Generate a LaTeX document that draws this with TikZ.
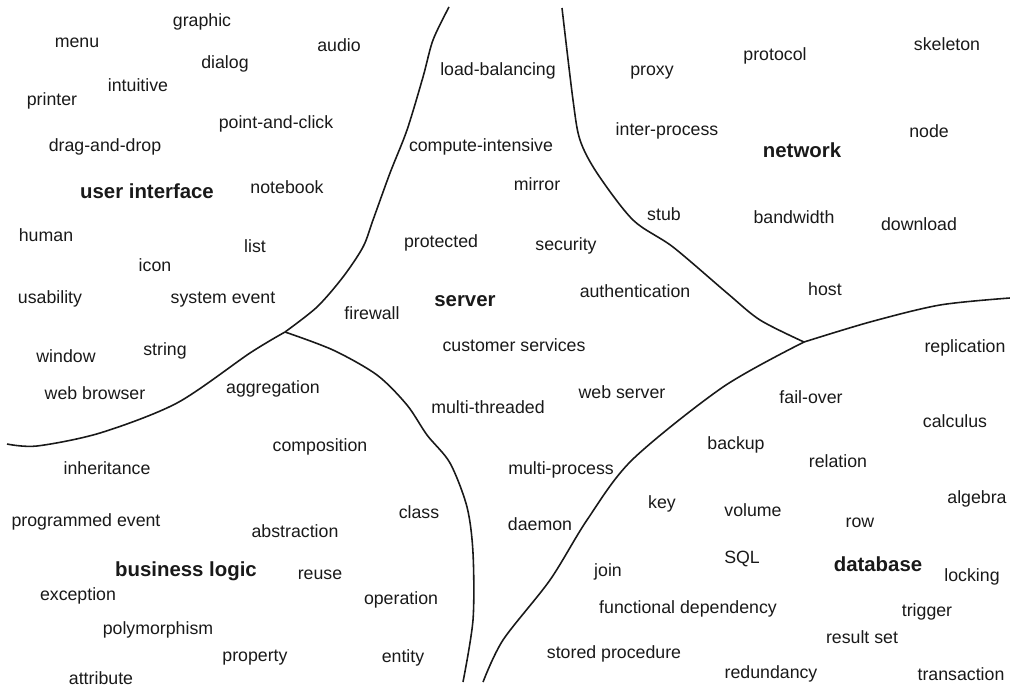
\documentclass[tikz,border=0pt]{standalone}
\usepackage{fontspec}
\setsansfont{Liberation Sans}
\usepackage{tikz}
\usetikzlibrary{positioning}

\begin{document}
\begin{tikzpicture}[
  x=0.02cm, y=-0.02cm,
  font=\sffamily,
  term/.style={inner sep=0pt, yshift=-0.6pt, font=\sffamily\fontsize{10.1}{12}\selectfont, text=black!90},
  topic/.style={inner sep=0pt, yshift=-0.6pt, font=\sffamily\bfseries\fontsize{11.6}{13}\selectfont, text=black!90},
  border/.style={line width=0.9pt, draw=black!90},
]
\useasboundingbox (0,0) rectangle (1010,687);

% ============================================================
% JUNCTIONS of the region borders
% ============================================================
\coordinate (jleft) at (285,332);
\coordinate (jright) at (804,342);

% --- borders ---
\draw[border] plot[smooth, tension=0.5] coordinates {(449,7) (433,40) (423,77) (407,130) (390,173) (373,220) (363,247) (343,277) (317,307) (jleft)};
\draw[border] plot[smooth, tension=0.5] coordinates {(jleft) (250,353) (177,403) (100,433) (37,446) (7,444)};
\draw[border] plot[smooth, tension=0.5] coordinates {(jleft) (333,350) (377,375) (407,405) (427,435) (450,463) (467,507) (473,553) (473,620) (463,682)};
\draw[border] plot[smooth, tension=0.5] coordinates {(562,8) (573,100) (580,140) (597,173) (633,220) (673,247) (727,293) (760,320) (jright)};
\draw[border] plot[smooth, tension=0.5] coordinates {(jright) (870,322) (940,305) (1010,298)};
\draw[border] plot[smooth, tension=0.5] coordinates {(jright) (723,387) (632,460) (587,520) (550,580) (503,640) (483,682)};

% ============================================================
% USER INTERFACE
% ============================================================
\node[topic] (ui) at (147,190) {user interface};
\node[term] (graphic) at (202,21) {graphic};
\node[term] (menu) at (77,42) {menu};
\node[term] (audio) at (339,44) {audio};
\node[term] (dialog) at (225,63) {dialog};
\node[term] (intuitive) at (138,84) {intuitive};
\node[term] (printer) at (52,100) {printer};
\node[term] (pointclick) at (276,123) {point-and-click};
\node[term] (dragdrop) at (105,146) {drag-and-drop};
\node[term] (notebook) at (287,186) {notebook};
\node[term] (human) at (46,234) {human};
\node[term] (list) at (255,245) {list};
\node[term] (icon) at (155,264) {icon};
\node[term] (usability) at (50,298) {usability};
\node[term] (sysevent) at (223,299) {system event};
\node[term] (window) at (66,355) {window};
\node[term] (string) at (165,350) {string};
\node[term] (webbrowser) at (95,392) {web browser};

% ============================================================
% SERVER
% ============================================================
\node[topic] (server) at (465,300) {server};
\node[term] (loadbal) at (498,70) {load-balancing};
\node[term] (compint) at (481,146) {compute-intensive};
\node[term] (mirror) at (537,183) {mirror};
\node[term] (protected) at (441,242) {protected};
\node[term] (security) at (566,245) {security};
\node[term] (firewall) at (372,312) {firewall};
\node[term] (authent) at (635,290) {authentication};
\node[term] (custserv) at (514,344) {customer services};
\node[term] (multithr) at (488,406) {multi-threaded};
\node[term] (webserver) at (622,391) {web server};
\node[term] (multiproc) at (561,469) {multi-process};
\node[term] (daemon) at (540,523) {daemon};

% ============================================================
% NETWORK
% ============================================================
\node[topic] (network) at (802,149) {network};
\node[term] (proxy) at (652,72) {proxy};
\node[term] (protocol) at (775,55) {protocol};
\node[term] (skeleton) at (947,43) {skeleton};
\node[term] (interproc) at (667,130) {inter-process};
\node[term] (node) at (929,130) {node};
\node[term] (stub) at (664,213) {stub};
\node[term] (bandwidth) at (794,216) {bandwidth};
\node[term] (download) at (919,223) {download};
\node[term] (host) at (825,288) {host};

% ============================================================
% BUSINESS LOGIC
% ============================================================
\node[topic] (bizlogic) at (186,570) {business logic};
\node[term] (aggregation) at (273,388) {aggregation};
\node[term] (composition) at (320,446) {composition};
\node[term] (inheritance) at (107,467) {inheritance};
\node[term] (class) at (419,511) {class};
\node[term] (progevent) at (86,521) {programmed event};
\node[term] (abstraction) at (295,530) {abstraction};
\node[term] (reuse) at (320,574) {reuse};
\node[term] (exception) at (78,595) {exception};
\node[term] (operation) at (401,599) {operation};
\node[term] (polymorph) at (158,629) {polymorphism};
\node[term] (property) at (255,657) {property};
\node[term] (entity) at (403,657) {entity};
\node[term] (attribute) at (101,677) {attribute};

% ============================================================
% DATABASE
% ============================================================
\node[topic] (database) at (878,563) {database};
\node[term] (replication) at (965,347) {replication};
\node[term] (failover) at (811,396) {fail-over};
\node[term] (calculus) at (955,420) {calculus};
\node[term] (backup) at (736,444) {backup};
\node[term] (relation) at (838,460) {relation};
\node[term] (algebra) at (977,498) {algebra};
\node[term] (key) at (662,503) {key};
\node[term] (volume) at (753,509) {volume};
\node[term] (row) at (860,522) {row};
\node[term] (sql) at (742,558) {SQL};
\node[term] (join) at (608,571) {join};
\node[term] (locking) at (972,576) {locking};
\node[term] (funcdep) at (688,608) {functional dependency};
\node[term] (trigger) at (927,611) {trigger};
\node[term] (resultset) at (862,636) {result set};
\node[term] (storedproc) at (614,653) {stored procedure};
\node[term] (redundancy) at (771,673) {redundancy};
\node[term] (transaction) at (961,673) {transaction};

\end{tikzpicture}
\end{document}
